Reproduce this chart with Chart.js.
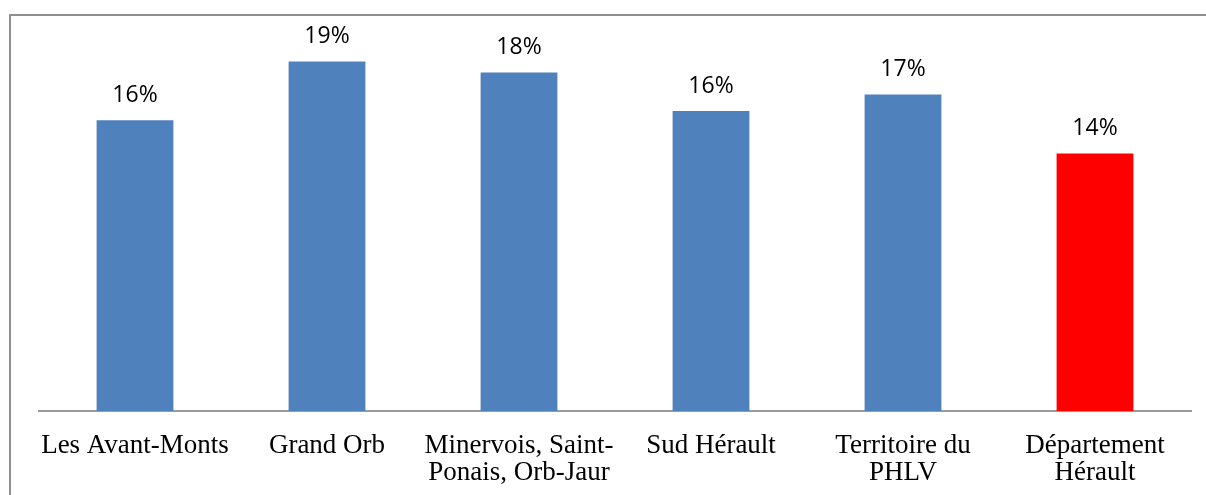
<!DOCTYPE html>
<html>
<head>
<meta charset="utf-8">
<script src="https://cdn.jsdelivr.net/npm/chart.js@4/dist/chart.umd.min.js"></script>
<style>
  html, body { margin: 0; padding: 0; background: #ffffff; overflow: hidden; }
  #wrap { position: relative; width: 1206px; height: 495px; }
  #frame { position: absolute; left: 9px; top: 14px; width: 1400px; height: 700px; border: 2px solid #8f8f8f; box-sizing: border-box; }
  canvas { position: absolute; left: 0; top: 0; }
</style>
</head>
<body>
<div id="wrap">
  <div id="frame"></div>
  <canvas id="c" width="1206" height="495"></canvas>
</div>
<script>
const categories = [
  "Les Avant-Monts",
  "Grand Orb",
  ["Minervois, Saint-", "Ponais, Orb-Jaur"],
  "Sud Hérault",
  ["Territoire du", "PHLV"],
  ["Département", "Hérault"]
];
const shareValues = [0.158, 0.190, 0.184, 0.163, 0.172, 0.140];
const barColors = ["#4F81BD", "#4F81BD", "#4F81BD", "#4F81BD", "#4F81BD", "#FF0000"];

const valueLabels = {
  id: 'valueLabels',
  afterDatasetsDraw(chart) {
    const ctx = chart.ctx;
    const meta = chart.getDatasetMeta(0);
    ctx.save();
    ctx.font = '23px "Open Sans", sans-serif';
    ctx.fillStyle = '#000000';
    ctx.textAlign = 'center';
    ctx.textBaseline = 'middle';
    meta.data.forEach((bar, i) => {
      const v = chart.data.datasets[0].data[i];
      ctx.fillText(Math.round(v * 100) + '%', bar.x, bar.y - 25);
    });
    ctx.restore();
  }
};

new Chart(document.getElementById('c'), {
  type: 'bar',
  data: {
    labels: categories,
    datasets: [{
      data: shareValues,
      backgroundColor: barColors,
      borderWidth: 0,
      categoryPercentage: 1.0,
      barPercentage: 0.4
    }]
  },
  options: {
    responsive: false,
    animation: false,
    layout: { padding: { left: 39, right: 15, top: 43, bottom: 0 } },
    plugins: { legend: { display: false }, tooltip: { enabled: false } },
    scales: {
      x: {
        grid: { display: false, drawTicks: false },
        border: { display: true, color: '#9a9a9a', width: 2 },
        ticks: {
          color: '#000000',
          font: { family: 'Liberation Serif', size: 27, lineHeight: 1.02 },
          padding: 21,
          maxRotation: 0,
          autoSkip: false
        },
        afterFit(scale) { scale.height = 84; }
      },
      y: {
        display: false,
        min: 0,
        max: 0.2
      }
    }
  },
  plugins: [valueLabels]
});
</script>
</body>
</html>
